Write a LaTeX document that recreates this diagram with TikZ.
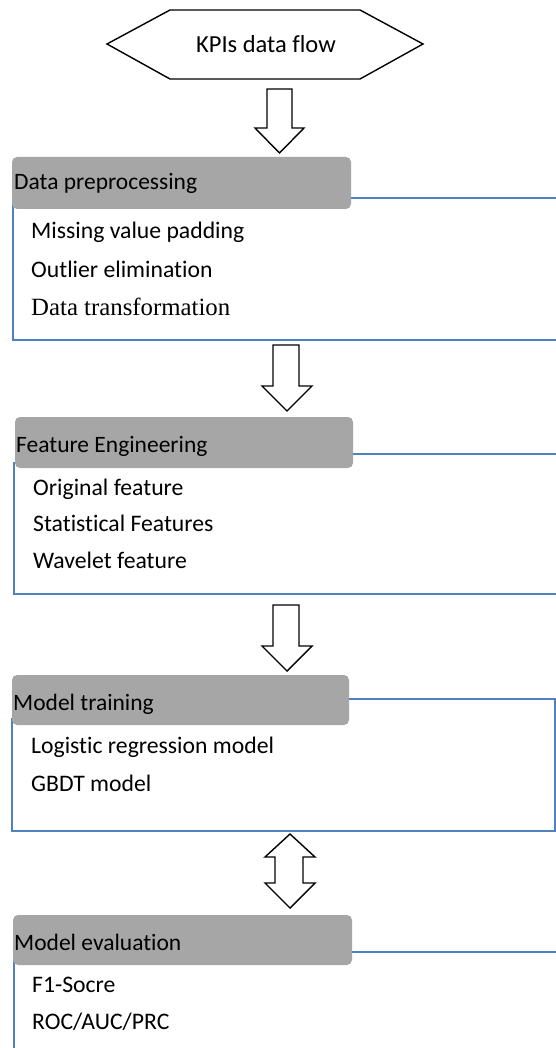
\documentclass[tikz,border=0pt]{standalone}
\usepackage{fontspec}
\setmainfont{Carlito}[Ligatures={NoCommon}]
\newfontfamily\serifalt{Liberation Serif}
\definecolor{frameblue}{RGB}{79,129,189}
\definecolor{headgray}{RGB}{166,166,166}
\begin{document}
\begin{tikzpicture}[x=1pt,y=-1pt,
  frameline/.style={draw=frameblue,line width=1.3pt},
  headbox/.style={fill=headgray,draw=none,rounded corners=5pt},
  headtext/.style={anchor=base west,inner sep=0pt,font=\fontsize{23.5}{26}\selectfont},
  itemtext/.style={anchor=base west,inner sep=0pt,font=\fontsize{23.7}{26}\selectfont},
  blockarrow/.style={draw=black,fill=white,line width=1.4pt,line join=miter},
  hexshape/.style={draw=black,fill=white,line width=1.4pt}]
\useasboundingbox (0,0) rectangle (556,1048);
\fill[white] (0,0) rectangle (556,1048);

% start hexagon
\draw[hexshape] (107,44) -- (170,10) -- (360,10) -- (423,44) -- (360,79) -- (170,79) -- cycle;
\node[anchor=base,inner sep=0pt,font=\fontsize{24.5}{27}\selectfont] (kpi) at (266,53) {KPIs data flow};

% arrow 1
\draw[blockarrow] (267,89) -- (292,89) -- (292,128) -- (304,128) -- (279.5,153) -- (255,128) -- (267,128) -- cycle;

% Data preprocessing
\draw[frameline] (351,198) -- (560,198);
\draw[frameline] (560,340) -- (13,340) -- (13,205);
\fill[headbox] (12,157) rectangle (351,209);
\node[headtext] (dp) at (14,190) {Data preprocessing};
\node[itemtext] (dp1) at (31,239) {Missing value padding};
\node[itemtext] (dp2) at (31,277) {Outlier elimination};
\node[itemtext,font=\serifalt\fontsize{24.8}{27}\selectfont] (dp3) at (31,315) {Data transformation};

% arrow 2
\draw[blockarrow] (273,345) -- (299,345) -- (299,386) -- (312,386) -- (287,411) -- (262,386) -- (273,386) -- cycle;

% Feature engineering
\draw[frameline] (353,454) -- (560,454);
\draw[frameline] (560,594) -- (14,594) -- (14,462);
\fill[headbox] (15,417) rectangle (353,468);
\node[headtext] (fe) at (16,452) {Feature Engineering};
\node[itemtext] (fe1) at (33,495) {Original feature};
\node[itemtext] (fe2) at (33,531) {Statistical Features};
\node[itemtext] (fe3) at (33,568) {Wavelet feature};

% arrow 3
\draw[blockarrow] (273,605) -- (299,605) -- (299,646) -- (312,646) -- (287,671) -- (262,646) -- (273,646) -- cycle;

% Model training
\draw[frameline] (349,699) -- (555,699) -- (555,831) -- (12,831) -- (12,718);
\fill[headbox] (12,675) rectangle (349,725);
\node[headtext] (mt) at (13,710) {Model training};
\node[itemtext] (mt1) at (31,753) {Logistic regression model};
\node[itemtext] (mt2) at (31,791) {GBDT model};

% double arrow
\draw[blockarrow] (290,834) -- (315,857) -- (303,857) -- (303,883) -- (315,883) -- (290,908) -- (265,883) -- (275,883) -- (275,857) -- (265,857) -- cycle;

% Model evaluation
\draw[frameline] (352,952) -- (560,952);
\draw[frameline] (14,960) -- (14,1052);
\fill[headbox] (13,915) rectangle (352,965);
\node[headtext] (me) at (14,950) {Model evaluation};
\node[itemtext] (me1) at (32,992) {F1-Socre};
\node[itemtext] (me2) at (32,1029) {ROC/AUC/PRC};
\end{tikzpicture}
\end{document}
